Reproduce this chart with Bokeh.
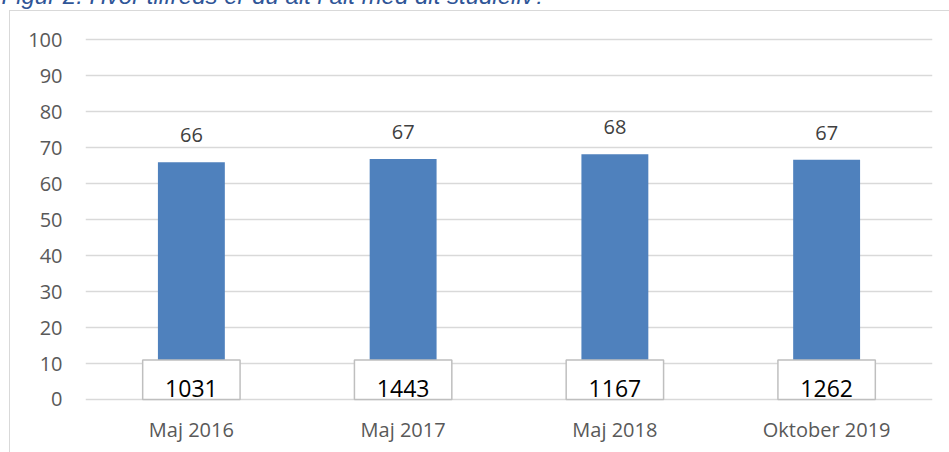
from bokeh.plotting import figure
from bokeh.models import Range1d, FactorRange, FixedTicker
from bokeh.core.properties import value
from bokeh.embed import file_html
from bokeh.resources import INLINE

# ---- data ----
categories = ["Maj 2016", "Maj 2017", "Maj 2018", "Oktober 2019"]
satisfaction = [65.9, 66.8, 68.1, 66.6]
value_labels = ["66", "67", "68", "67"]
respondents = [1031, 1443, 1167, 1262]
respondent_labels = [str(n) for n in respondents]
y_ticks = [0, 10, 20, 30, 40, 50, 60, 70, 80, 90, 100]
title_text = "Figur 2: Hvor tilfreds er du alt i alt med dit studieliv?"

FONT = "Open Sans"
BORDER = "#D9D9D9"

p = figure(frame_width=847, frame_height=391,
           x_range=FactorRange(*categories, range_padding=0),
           y_range=Range1d(-0.556, 108.06),
           output_backend="svg", toolbar_location=None,
           min_border_left=85, min_border_right=17,
           min_border_top=0, min_border_bottom=51)
# anchor the canvas to the bottom-left of the window; the caption above is cut
# off by the window's top edge as in the source; chart border drawn behind
p.styles = {
    "position": "absolute", "left": "0px", "bottom": "0px",
    "background": (f"linear-gradient({BORDER},{BORDER}) left 9px bottom 0px / 1px 441px no-repeat, "
                   f"linear-gradient({BORDER},{BORDER}) left 9px bottom 441px / 100% 1px no-repeat, "
                   "#ffffff"),
}
p.outline_line_color = None
p.background_fill_color = None
p.border_fill_color = None

# caption
p.title.text = title_text
p.title.align = "left"
p.title.offset = -84
p.title.standoff = 3
p.title.text_font = "Liberation Sans"
p.title.text_font_style = "italic"
p.title.text_font_size = "24px"
p.title.text_color = "#2F5597"

# grid
p.xgrid.visible = False
p.ygrid.ticker = FixedTicker(ticks=y_ticks)
p.ygrid.grid_line_color = "#D9D9D9"
p.ygrid.grid_line_width = 1.3

# axes
p.yaxis.ticker = FixedTicker(ticks=y_ticks)
p.yaxis.axis_line_color = None
p.yaxis.major_tick_line_color = None
p.yaxis.minor_tick_line_color = None
p.yaxis.major_tick_out = 0
p.yaxis.major_label_standoff = 23
p.yaxis.major_label_text_font = FONT
p.yaxis.major_label_text_font_size = "20px"
p.yaxis.major_label_text_color = "#595959"

p.xaxis.axis_line_color = None
p.xaxis.major_tick_line_color = None
p.xaxis.major_tick_out = 0
p.xaxis.major_label_standoff = 14
p.xaxis.major_label_text_font = FONT
p.xaxis.major_label_text_font_size = "20px"
p.xaxis.major_label_text_color = "#595959"

# bars
p.vbar(x=categories, top=satisfaction, bottom=0, width=0.316,
       fill_color="#4F81BD", line_color=None)

# value labels
p.text(x=categories, y=satisfaction, text=value_labels, y_offset=-27,
       text_align="center", text_baseline="alphabetic",
       text_font=value(FONT), text_font_size="20px", text_color="#404040")

# respondent boxes
p.vbar(x=categories, bottom=0, top=11, width=0.46,
       fill_color="white", line_color="#BFBFBF", line_width=1.5)
p.text(x=categories, y=0, text=respondent_labels, y_offset=-11,
       text_align="center", text_baseline="alphabetic",
       text_font=value(FONT), text_font_size="23px", text_color="#000000")

open("out.html", "w").write(file_html(p, INLINE))
